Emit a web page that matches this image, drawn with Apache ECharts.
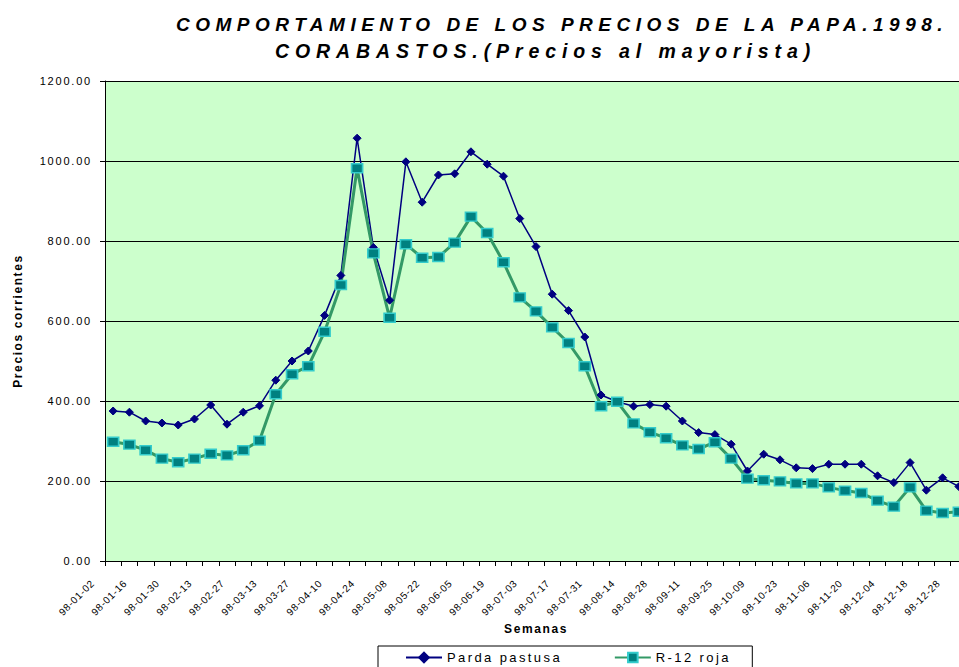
<!DOCTYPE html>
<html>
<head>
<meta charset="utf-8">
<script src="https://cdn.jsdelivr.net/npm/echarts/dist/echarts.min.js"></script>
<style>
html, body { margin: 0; padding: 0; background: #ffffff; }
#chart { width: 959px; height: 667px; }
#chart text[style*="19px"] { letter-spacing: 5.5px; }
#chart text[style*="19.5px"] { letter-spacing: 5.9px; }
#chart text[style*="13px"] { letter-spacing: 2.4px; }
#chart text[style*="12px"] { letter-spacing: 1.6px; }
#chart text[style*="11px"] { letter-spacing: 1.8px; }
#chart text[style*="10px"] { letter-spacing: 0.7px; }
</style>
</head>
<body>
<div id="chart"></div>
<script>
// ---- data ----
const weeks = [
  '98-01-02','98-01-09','98-01-16','98-01-23','98-01-30','98-02-06','98-02-13','98-02-20',
  '98-02-27','98-03-06','98-03-13','98-03-20','98-03-27','98-04-03','98-04-10','98-04-17',
  '98-04-24','98-05-01','98-05-08','98-05-15','98-05-22','98-05-29','98-06-05','98-06-12',
  '98-06-19','98-06-26','98-07-03','98-07-10','98-07-17','98-07-24','98-07-31','98-08-07',
  '98-08-14','98-08-21','98-08-28','98-09-04','98-09-11','98-09-18','98-09-25','98-10-02',
  '98-10-09','98-10-16','98-10-23','98-10-30','98-11-06','98-11-13','98-11-20','98-11-27',
  '98-12-04','98-12-11','98-12-18','98-12-23','98-12-28'
];
const pardaPastusa = [
  375, 372, 350, 345, 340, 355, 390, 342, 372, 388, 452, 500, 525, 614, 714, 1057,
  784, 652, 998, 897, 965, 968, 1023, 992, 962, 856, 786, 667, 626, 560, 415, 398,
  387, 391, 387, 350, 321, 316, 292, 225, 267, 253, 233, 231, 242, 242, 242, 213,
  196, 246, 177, 208, 186
];
const r12Roja = [
  298, 291, 277, 256, 247, 256, 268, 264, 277, 301, 417, 467, 487, 573, 690, 982,
  769, 608, 792, 758, 760, 796, 861, 820, 747, 659, 624, 584, 545, 487, 387, 398,
  344, 322, 307, 289, 280, 297, 256, 206, 202, 199, 194, 194, 184, 176, 170, 151,
  136, 184, 126, 120, 123
];
const seriesNames = ['Parda pastusa', 'R-12 roja'];
const titleLine1 = 'COMPORTAMIENTO DE LOS PRECIOS DE LA PAPA.1998.';
const titleLine2 = 'CORABASTOS.(Precios al mayorista)';
const xAxisName = 'Semanas';
const yAxisName = 'Precios corrientes';
const yMin = 0, yMax = 1200, yStep = 200;

// ---- helpers ----
const FAMILY = 'Liberation Sans, Arial, sans-serif';
function titleLeft(text, center, size, spacing) {
  const ctx = document.createElement('canvas').getContext('2d');
  ctx.font = 'italic bold ' + size + 'px "Liberation Sans", Arial, sans-serif';
  const w = ctx.measureText(text).width + (text.length - 1) * spacing;
  return Math.round(center - w / 2);
}

const chart = echarts.init(document.getElementById('chart'), null, { renderer: 'svg' });
const titleStyle1 = { fontSize: 19, fontWeight: 'bold', fontStyle: 'italic', color: '#000', fontFamily: FAMILY };
const titleStyle2 = { fontSize: 19.5, fontWeight: 'bold', fontStyle: 'italic', color: '#000', fontFamily: FAMILY };

chart.setOption({
  animation: false,
  backgroundColor: '#ffffff',
  textStyle: { fontFamily: FAMILY },
  title: [
    { text: titleLine1, left: titleLeft(titleLine1, 560, 19, 5.5), top: 15, padding: 0, textStyle: titleStyle1 },
    { text: titleLine2, left: titleLeft(titleLine2, 543, 19.5, 5.9), top: 41, padding: 0, textStyle: titleStyle2 }
  ],
  legend: {
    data: seriesNames,
    left: 378, top: 646,
    orient: 'horizontal',
    itemWidth: 36, itemHeight: 12, itemGap: 83,
    padding: [5, 43, 12, 27],
    borderColor: '#000', borderWidth: 1,
    backgroundColor: '#fff',
    textStyle: { fontSize: 13, color: '#000', fontFamily: FAMILY }
  },
  grid: {
    left: 105, top: 81, right: -8, bottom: 106,
    show: true, backgroundColor: '#CCFFCC', borderWidth: 0,
    containLabel: false, outerBoundsMode: 'none'
  },
  xAxis: {
    type: 'category',
    data: weeks,
    boundaryGap: true,
    name: xAxisName,
    nameLocation: 'middle',
    nameGap: 62,
    nameTextStyle: { fontSize: 12, fontWeight: 'bold', color: '#000', fontFamily: FAMILY },
    axisLine: { show: true, lineStyle: { color: '#000', width: 1 } },
    axisTick: { show: true, interval: 0, length: 5, inside: false, lineStyle: { color: '#000' } },
    axisLabel: {
      interval: 1, rotate: 45, margin: 0, padding: [0, 29, 15, 0],
      fontSize: 10, color: '#000', fontFamily: FAMILY
    },
    splitLine: { show: false }
  },
  yAxis: {
    type: 'value',
    min: yMin, max: yMax, interval: yStep,
    name: yAxisName,
    nameLocation: 'middle',
    nameRotate: 90,
    nameGap: 81,
    nameTextStyle: { fontSize: 12, fontWeight: 'bold', color: '#000', fontFamily: FAMILY },
    axisLine: { show: true, lineStyle: { color: '#000', width: 1 } },
    axisTick: { show: true, length: 5, inside: false, lineStyle: { color: '#000' } },
    axisLabel: {
      margin: 13, fontSize: 11, color: '#000', fontFamily: FAMILY,
      formatter: v => v.toFixed(2)
    },
    splitLine: { show: true, lineStyle: { color: '#000', width: 1 } }
  },
  series: [
    {
      name: seriesNames[0],
      type: 'line',
      data: pardaPastusa,
      showAllSymbol: true,
      symbol: 'diamond',
      symbolSize: [8, 8],
      lineStyle: { color: '#000080', width: 1.5 },
      itemStyle: { color: '#000080', borderColor: '#000080', borderWidth: 1 },
      emphasis: { disabled: true }
    },
    {
      name: seriesNames[1],
      type: 'line',
      data: r12Roja,
      showAllSymbol: true,
      symbol: 'rect',
      symbolSize: [11, 9],
      lineStyle: { color: '#339966', width: 3 },
      itemStyle: { color: '#008080', borderColor: '#33CCCC', borderWidth: 1.5 },
      emphasis: { disabled: true }
    }
  ]
});
</script>
</body>
</html>
